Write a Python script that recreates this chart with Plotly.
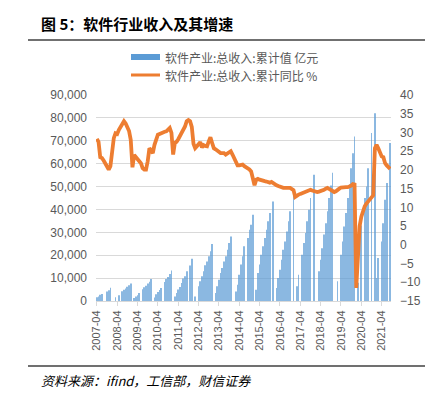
import plotly.graph_objects as go

# ---------------- data ----------------
months = [f"{y}-{m:02d}" for y in range(2007, 2022) for m in range(1, 13)][3:3 + 174]  # 2007-04 .. 2021-09

# 软件产业:总收入:累计值 (亿元), monthly, None = no data
revenue = (
    [1600, 2000, 2750, 3050, None, None, 4200, 4650, 5800] +                          # 2007 Apr-Dec
    [None, None, 1600, None, 2500, None, 4300, 4900, 5500, 6200, 6900, 7600] +        # 2008
    [None, 1300, 2000, 2500, 3500, None, 5100, 6000, 6700, 7600, 8400, 9600] +        # 2009
    [None, 1500, 3000, 3900, 4800, 5700, None, 8300, 9600, 10500, 11800, 13300] +     # 2010
    [None, 2000, 3500, 5000, 6100, 7900, 9800, 10800, 13000, None, 15500, 18500] +    # 2011
    [None, 2000, None, 6400, 8600, 10800, 13000, 15600, 17300, 19500, 21700, 24900] + # 2012
    [None, 3500, 6400, 9300, 12200, 14400, 17300, 19500, 22400, 25300, 28200, None] + # 2013
    [None, 4200, 7100, 11500, 15900, 19500, 23900, None, 27500, 31100, 33300, 37700] +# 2014
    [None, 4900, 12200, 15900, 20200, 23900, 27500, 31100, 34800, 38400, None, 43500] +# 2015
    [None, 5700, 10000, 13700, 18000, 22400, 26000, 30400, 34800, 39200, None, 47200] +# 2016
    [None, 6400, 11500, None, 20200, 25300, 29700, 34800, 39900, 45000, None, 55200] + # 2017
    [None, None, 13000, 18000, 23100, 29000, 34000, 39200, 45000, 50500, 56000, None] +# 2018
    [None, 8600, None, 20200, 26000, 32600, 38400, 45000, 51000, 58000, 64600, 71900] +# 2019
    [None, 8000, None, 33000, None, 45000, 50000, 58000, None, 73400, None, 82000] +   # 2020
    [10000, 18800, None, 26000, 34000, 44200, 51500, None, 69000]                      # 2021 Jan-Sep
)

# 软件产业:总收入:累计同比 (%)
growth = (
    [28.3, 27.5, 23.4, 23.2, 22.5, 21.5, 20.5, 20.1, 21.0] +
    [25.5, 28.5, 29.8, 29.6, 30.7, 31.4, 32.2, 33.0, 32.4, 31.0, 30.4, 28.0] +
    [20.7, 24.0, 23.4, 23.0, 22.5, 21.8, 20.5, 20.1, 20.1, 22.3, 25.8, 25.0] +
    [24.5, 26.7, 28.1, 29.4, 29.6, 29.9, 30.1, 30.2, 30.3, 30.8, 31.2, 29.9] +
    [24.1, 27.2, 27.5, 28.2, 29.0, 29.8, 30.3, 31.6, 33.0, 33.3, 33.0, 31.5] +
    [27.0, 25.8, 26.3, 26.7, 27.4, 26.0, 26.6, 26.4, 26.3, 27.6, 28.7, 27.2] +
    [25.8, 25.5, 25.1, 25.0, 24.5, 24.5, 24.5, 24.1, 24.5, 24.8, 25.0, 24.1] +
    [23.0, 22.0, 21.2, 21.2, 21.2, 21.4, 21.0, 20.7, 20.7, 20.1, 19.6, 17.8] +
    [15.9, 17.4, 17.6, 17.4, 17.2, 17.1, 17.0, 16.9, 16.8, 16.6, 16.8, 16.4] +
    [16.1, 15.9, 15.7, 15.5, 15.3, 15.2, 15.2, 15.1, 15.2, 15.2, 15.0, 14.6] +
    [12.8, 13.2, 13.4, 13.6, 13.8, 13.9, 14.1, 14.3, 14.5, 14.7, 14.5, 14.3] +
    [14.2, 14.1, 14.2, 14.3, 14.5, 14.7, 15.0, 15.2, 14.9, 14.6, 14.2, 14.1] +
    [14.3, 14.8, 15.0, 15.3, 15.4, 15.4, 15.4, 15.4, 15.5, 15.8, 16.2, 16.1] +
    [-11.5, -2.0, 5.0, 7.5, 9.0, 10.3, 11.0, 11.6, 12.1, 12.6, 13.2, 25.8] +
    [26.7, 25.8, 24.5, 23.6, 23.4, 21.8, 21.2, 20.6, 20.3]
)

tick_labels = months[0::12]

title_text = "图 5：软件行业收入及其增速"
legend_bar = "软件产业:总收入:累计值 亿元"
legend_line = "软件产业:总收入:累计同比 %"
source_text = "资料来源：ifind，工信部，财信证券"

# ---------------- layout helpers (pixel -> paper) ----------------
W, H = 433, 397
L, R, T, B = 88, 383, 87, 293


def px(x):
    return (x - L) / (R - L)


def py(y):
    return (B - y) / (B - T)


CJK = "Noto Sans CJK SC"
GRAY = "#595959"

fig = go.Figure()
fig.add_trace(go.Bar(x=months, y=revenue, marker=dict(color="#5B9BD5", line=dict(width=0)),
                     opacity=0.7, name=legend_bar, showlegend=False, yaxis="y"))
fig.add_trace(go.Scatter(x=months, y=growth, mode="lines", connectgaps=True,
                         line=dict(color="#ED7D31", width=3.8),
                         name=legend_line, showlegend=False, yaxis="y2"))

shapes = [
    dict(type="line", xref="paper", yref="paper", x0=px(20), x1=px(428), y0=py(32), y1=py(32),
         line=dict(color="#404040", width=1.5)),
    dict(type="line", xref="paper", yref="paper", x0=px(20), x1=px(428), y0=py(358), y1=py(358),
         line=dict(color="#404040", width=1.5)),
    dict(type="rect", xref="paper", yref="paper", x0=px(123), x1=px(152), y0=py(52), y1=py(46),
         fillcolor="#5B9BD5", line=dict(width=0)),
    dict(type="line", xref="paper", yref="paper", x0=px(123), x1=px(152), y0=py(67), y1=py(67),
         line=dict(color="#ED7D31", width=3)),
]

annotations = [
    dict(text=f"<b>{title_text}</b>", xref="paper", yref="paper", x=px(31), y=py(16),
         xanchor="left", yanchor="middle", showarrow=False,
         font=dict(family=CJK, size=15, color="#000000")),
    dict(text=legend_bar, xref="paper", yref="paper", x=px(155), y=py(49),
         xanchor="left", yanchor="middle", showarrow=False,
         font=dict(family=CJK, size=12, color=GRAY)),
    dict(text=legend_line, xref="paper", yref="paper", x=px(155), y=py(67),
         xanchor="left", yanchor="middle", showarrow=False,
         font=dict(family=CJK, size=12, color=GRAY)),
    dict(text=f"<i>{source_text}</i>", xref="paper", yref="paper", x=px(31), y=py(372),
         xanchor="left", yanchor="middle", showarrow=False,
         font=dict(family=CJK, size=13, color="#000000")),
]

fig.update_layout(
    width=W, height=H,
    margin=dict(l=L, r=W - R, t=T, b=H - B, pad=0),
    paper_bgcolor="white", plot_bgcolor="white",
    bargap=0.55,
    showlegend=False,
    shapes=shapes, annotations=annotations,
    xaxis=dict(type="category", range=[-0.5, len(months) - 0.5],
               tickmode="array", tickvals=tick_labels, ticktext=tick_labels,
               tickangle=-90, ticks="outside", ticklen=4, tickcolor="#D9D9D9",
               showline=True, linecolor="#D9D9D9", linewidth=1, showgrid=False,
               tickfont=dict(family="Liberation Sans, Arial", size=11, color=GRAY)),
    yaxis=dict(range=[0, 90000], dtick=10000, tickformat=",", showgrid=True,
               gridcolor="#D9D9D9", gridwidth=1, zeroline=False, showline=False,
               ticks="", ticklabelstandoff=8,
               tickfont=dict(family="Liberation Sans, Arial", size=12, color=GRAY)),
    yaxis2=dict(range=[-15, 40], dtick=5, overlaying="y", side="right", showgrid=False,
                zeroline=False, showline=False, ticks="", ticklabelstandoff=8,
                tickfont=dict(family="Liberation Sans, Arial", size=12, color=GRAY)),
)

fig.write_html("out.html")
